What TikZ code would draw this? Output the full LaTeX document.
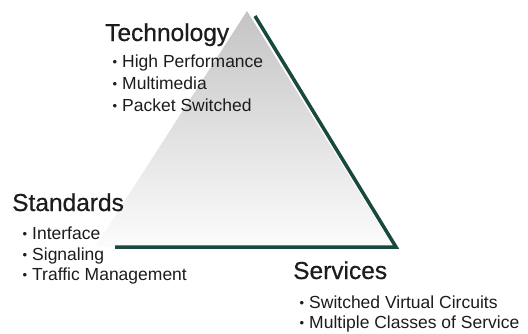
\documentclass[tikz,border=0pt]{standalone}
\usepackage{fontspec}
\setmainfont{Liberation Sans}
\newfontfamily\headfont[FakeBold=0.6]{Liberation Sans}
\definecolor{txt}{RGB}{28,28,28}
\definecolor{edge}{RGB}{24,72,62}
\definecolor{gtop}{RGB}{196,196,196}
\definecolor{gmid}{RGB}{232,232,232}
\definecolor{gbot}{RGB}{252,252,252}
\newcommand\bul{\llap{{\fontsize{13}{13}\selectfont\raisebox{0.8pt}{•}}\hspace{5pt}}}
\begin{document}
\begin{tikzpicture}[x=1pt,y=-1pt,
  head/.style={anchor=base west, inner sep=0pt, font=\headfont\fontsize{24.5}{28}\selectfont, text=txt},
  item/.style={anchor=base west, inner sep=0pt, font=\fontsize{17.5}{21}\selectfont, text=txt},
  edgeline/.style={draw=edge, line width=3.5pt, line join=miter}]
\useasboundingbox (0,0) rectangle (528,333);
% triangle
\coordinate (ga) at (247,11);
\coordinate (gr) at (393,247);
\coordinate (gl) at (95,247);
\coordinate (ls) at (255,16);
\coordinate (rc) at (396,247);
\coordinate (lc) at (115,247);
\shade[top color=gtop, middle color=gmid, bottom color=gbot] (ga) -- (gr) -- (gl) -- cycle;
\draw[edgeline] (ls) -- (rc) -- (lc);
% Technology
\node[head] (tech) at (105,41) {Technology};
\node[item] (t1) at (122,67) {\bul High Performance};
\node[item] (t2) at (122,89) {\bul Multimedia};
\node[item] (t3) at (122,111) {\bul Packet Switched};
% Standards
\node[head] (std) at (12,211) {Standards};
\node[item] (s1) at (32,239) {\bul Interface};
\node[item] (s2) at (32,260) {\bul Signaling};
\node[item] (s3) at (32,280) {\bul Traffic Management};
% Services
\node[head] (svc) at (293,279) {Services};
\node[item] (v1) at (309,308) {\bul Switched Virtual Circuits};
\node[item] (v2) at (309,328) {\bul Multiple Classes of Service};
\end{tikzpicture}
\end{document}
